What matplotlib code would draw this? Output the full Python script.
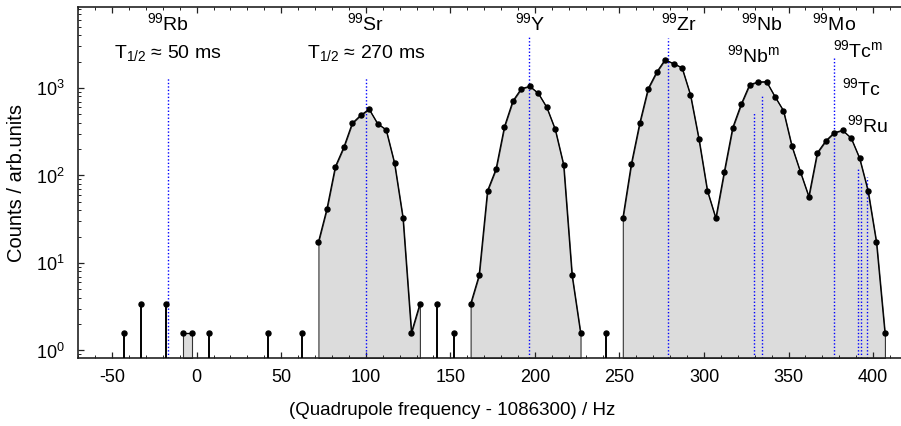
import numpy as np
import matplotlib
matplotlib.use("Agg")
import matplotlib.pyplot as plt
from matplotlib import ticker
import matplotlib.transforms as mtransforms

plt.rcParams['font.family'] = 'Liberation Sans'
plt.rcParams['mathtext.fontset'] = 'custom'
plt.rcParams['mathtext.rm'] = 'Liberation Sans'
plt.rcParams['mathtext.it'] = 'Liberation Sans:italic'
plt.rcParams['mathtext.bf'] = 'Liberation Sans:bold'
plt.rcParams['mathtext.default'] = 'regular'
plt.rcParams['axes.unicode_minus'] = False
plt.rcParams['font.size'] = 13

# channels with counts (frequency offset in Hz)
freq = [-43, -33, -18, -8, -3, 7, 42, 62,
        72, 77, 82, 87, 92, 97, 102, 107, 112, 117, 122, 127, 132,
        142, 152,
        162, 167, 172, 177, 182, 187, 192, 197, 202, 207, 212, 217, 222, 227,
        242,
        252, 257, 262, 267, 272, 277, 282, 287, 292, 297, 302, 307, 312, 317,
        322, 327, 332, 337, 342, 347, 352, 357, 362, 367, 372, 377, 382, 387,
        392, 397, 402, 407]
counts = [1.6, 3.4, 3.4, 1.6, 1.6, 1.6, 1.6, 1.6,
          17.4, 41.4, 126, 210, 395, 488, 571, 391, 334, 138, 32.7, 1.6, 3.4,
          3.4, 1.6,
          3.4, 7.2, 67, 118, 361, 710, 982, 1045, 870, 602, 337, 132, 7.2, 1.6,
          1.6,
          32.4, 134, 395, 982, 1512, 2105, 1896, 1707, 832, 261, 67, 32.4, 110, 352,
          651, 1091, 1171, 1180, 795, 550, 216, 110, 57.3, 181, 248, 308, 328, 268,
          158, 67, 17.2, 1.6]

# reference frequencies (blue dotted lines) and their heights
ref_pos = [-17, 100, 196.5, 279, 334.1, 329.7, 377.1, 391.3, 393, 396.6]
ref_top = [1336, 1336, 3930, 3680, 832, 532, 2260, 125, 82, 96]

# labels: text, x (Hz), y (axes fraction)
lab_text = [r'$^{99}$Rb', r'T$_{1/2}$ ≈ 50 ms', r'$^{99}$Sr', r'T$_{1/2}$ ≈ 270 ms',
            r'$^{99}$Y', r'$^{99}$Zr', r'$^{99}$Nb', r'$^{99}$Nb$^{m}$',
            r'$^{99}$Mo', r'$^{99}$Tc$^{m}$', r'$^{99}$Tc', r'$^{99}$Ru']
lab_x = [-17, -17, 100, 100, 197.5, 285, 334.1, 329.7, 377.1, 391.3, 393, 396.6]
lab_y = [0.955, 0.870, 0.955, 0.870, 0.955, 0.955, 0.955, 0.864, 0.955, 0.878, 0.770, 0.664]

fig = plt.figure(figsize=(9.01, 4.26), dpi=100)
ax = fig.add_axes([78.3/901, 68/426, 828.6/901, 350.7/426])
ax.set_yscale('log')
ax.set_xlim(-70, 420)
ax.set_ylim(0.82, 8360)

# split into runs of neighbouring channels
freq = np.array(freq, dtype=float)
counts = np.array(counts, dtype=float)
breaks = np.where(np.diff(freq) > 5.5)[0] + 1
for xs, ys in zip(np.split(freq, breaks), np.split(counts, breaks)):
    if len(xs) == 1:
        ax.vlines(xs, 0.82, ys, color='black', lw=1.4, zorder=3)
        ax.plot(xs, ys, 'o', color='black', ms=3.6, zorder=4)
    else:
        ax.fill_between(xs, 0.82, ys, facecolor='#dcdcdc', edgecolor='#333333', lw=0.8, zorder=1)
        ax.plot(xs, ys, '-o', color='black', lw=0.9, ms=3.6, zorder=4)

ax.vlines(ref_pos, 0.82, ref_top, colors='blue', linestyles=(0, (1, 1.5)), lw=1, zorder=2)

trans = mtransforms.blended_transform_factory(ax.transData, ax.transAxes)
for t, x, y in zip(lab_text, lab_x, lab_y):
    ax.text(x, y, t, transform=trans, ha='center', va='center', fontsize=14)

ax.xaxis.set_major_locator(ticker.MultipleLocator(50))
ax.xaxis.set_minor_locator(ticker.MultipleLocator(10))
ax.yaxis.set_major_locator(ticker.LogLocator(base=10, numticks=10))
ax.yaxis.set_minor_locator(ticker.LogLocator(base=10, subs=np.arange(2, 10), numticks=10))
ax.yaxis.set_minor_formatter(ticker.NullFormatter())
ax.tick_params(which='both', direction='in', top=True, right=True, color='#222222')
ax.tick_params(which='major', length=4, width=0.9)
ax.tick_params(which='minor', length=2, width=0.7)
ax.tick_params(axis='x', pad=8)
ax.tick_params(axis='y', pad=10)
for s in ax.spines.values():
    s.set_linewidth(1.2)
    s.set_color('#222222')

ax.set_xlabel('(Quadrupole frequency - 1086300) / Hz', fontsize=13.5)
ax.xaxis.set_label_coords((452.5 - 78.3) / 828.6, -0.125)
ax.set_ylabel('Counts / arb.units', fontsize=14.5, labelpad=7)

fig.savefig('out.png', dpi=100)
